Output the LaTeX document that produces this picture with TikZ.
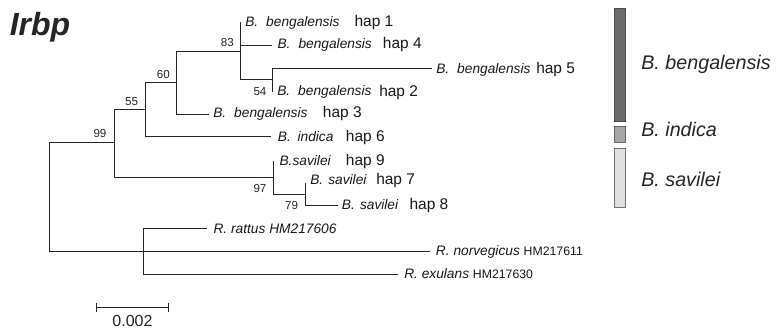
\documentclass[tikz,border=0pt]{standalone}
\usepackage{fontspec}
\setmainfont{Liberation Sans}
\begin{document}
\begin{tikzpicture}[x=0.75pt,y=-0.75pt,
  branch/.style={draw=black!85,line width=0.75pt},
  tiplab/.style={anchor=base west,inner sep=0pt,font=\fontsize{10.3pt}{12pt}\selectfont\itshape,text=black!90},
  haplab/.style={anchor=base west,inner sep=0pt,font=\fontsize{11.6pt}{13pt}\selectfont,text=black!90},
  boot/.style={anchor=base east,inner sep=0pt,font=\fontsize{8.7pt}{10pt}\selectfont,text=black!85},
  grouplab/.style={anchor=base west,inner sep=0pt,font=\fontsize{14.8pt}{17pt}\selectfont\itshape,text=black!85},
  bar/.style={line width=0.6pt}]
\useasboundingbox (0,0) rectangle (783,331);
\newcommand{\acc}[1]{{\upshape\fontsize{9.2pt}{11pt}\selectfont #1}}
\newcommand{\gen}[1]{B.\hspace{#1}}

% title
\node[anchor=base west,inner sep=0pt,font=\fontsize{24pt}{28pt}\selectfont\bfseries\itshape,text=black!85] (title) at (9.5,36) {Irbp};

% internal nodes
\coordinate (root) at (49.3,251.7);
\coordinate (n99) at (114.3,143);
\coordinate (n55) at (145,110);
\coordinate (n60) at (176.7,83);
\coordinate (n83) at (240,51.7);
\coordinate (n54) at (272.3,80);
\coordinate (n97) at (273.3,177.7);
\coordinate (n79) at (305,194.3);
\coordinate (nR) at (143.3,251.7);

% tips
\coordinate (t1) at (241,23);
\coordinate (t4) at (271.5,46);
\coordinate (t5) at (431.7,69);
\coordinate (t2) at (273,91.7);
\coordinate (t3) at (209,115);
\coordinate (t6) at (270.7,136.7);
\coordinate (t9) at (274,161.7);
\coordinate (t7) at (306,183.3);
\coordinate (t8) at (338,205.7);
\coordinate (tr) at (206.7,229);
\coordinate (tn) at (430,251.7);
\coordinate (te) at (398.3,275);

% branches
\draw[branch] (root) |- (n99);
\draw[branch] (root) |- (nR);
\draw[branch] (n99) |- (n55);
\draw[branch] (n99) |- (n97);
\draw[branch] (n55) |- (n60);
\draw[branch] (n55) |- (t6);
\draw[branch] (n60) |- (n83);
\draw[branch] (n60) |- (t3);
\draw[branch] (n83) |- (t1);
\draw[branch] (n83) |- (t4);
\draw[branch] (n83) |- (n54);
\draw[branch] (n54) |- (t5);
\draw[branch] (n54) |- (t2);
\draw[branch] (n97) |- (t9);
\draw[branch] (n97) |- (n79);
\draw[branch] (n79) |- (t7);
\draw[branch] (n79) |- (t8);
\draw[branch] (nR) |- (tr);
\draw[branch] (nR) |- (tn);
\draw[branch] (nR) |- (te);

% bootstrap values
\node[boot] (b83) at (234,46.7) {83};
\node[boot] (b60) at (170,78.3) {60};
\node[boot] (b55) at (138.3,106) {55};
\node[boot] (b99) at (106.7,137.7) {99};
\node[boot] (b54) at (266.7,95.7) {54};
\node[boot] (b97) at (266.7,192.7) {97};
\node[boot] (b79) at (298.3,210) {79};

% tip labels: species name, then haplotype
\node[tiplab] (l1) at (245,26.7) {\gen{6pt}bengalensis};
\node[haplab] (h1) at (354.3,26.7) {hap 1};
\node[tiplab] (l4) at (277.3,49) {\gen{6pt}bengalensis};
\node[haplab] (h4) at (382.7,49) {hap 4};
\node[tiplab] (l5) at (436,74) {\gen{6pt}bengalensis};
\node[haplab] (h5) at (536,74) {hap 5};
\node[tiplab] (l2) at (277,95.7) {\gen{6pt}bengalensis};
\node[haplab] (h2) at (379,97) {hap 2};
\node[tiplab] (l3) at (213,118) {\gen{6pt}bengalensis};
\node[haplab] (h3) at (322.7,118) {hap 3};
\node[tiplab] (l6) at (277.7,141.7) {\gen{5pt}indica};
\node[haplab] (h6) at (345.7,141.7) {hap 6};
\node[tiplab] (l9) at (279.3,165.7) {B.savilei};
\node[haplab] (h9) at (345.7,165.7) {hap 9};
\node[tiplab] (l7) at (310,185) {\gen{3.8pt}savilei};
\node[haplab] (h7) at (376,185) {hap 7};
\node[tiplab] (l8) at (341.7,210) {\gen{3.8pt}savilei};
\node[haplab] (h8) at (409.3,210) {hap 8};
\node[tiplab] (lr) at (213.3,233.3) {R. rattus HM217606};
\node[tiplab] (ln) at (435.7,256) {R. norvegicus \acc{HM217611}};
\node[tiplab] (le) at (404,278.3) {R. exulans \acc{HM217630}};

% scale bar
\coordinate (sa) at (96.7,307.3);
\coordinate (sb) at (168.3,307.3);
\draw[branch] (sa) -- (sb);
\draw[branch] ([yshift=-3.5]sa) -- ([yshift=3.5]sa);
\draw[branch] ([yshift=-3.5]sb) -- ([yshift=3.5]sb);
\node[anchor=base,inner sep=0pt,font=\fontsize{12pt}{14pt}\selectfont,text=black!85] (scale) at (132.5,326.7) {0.002};

% species bars
\draw[bar,fill=black!58,draw=black!70] (614.3,8.3) rectangle (625.7,121.7);
\draw[bar,fill=black!35,draw=black!60] (614.3,126) rectangle (625.7,142.7);
\draw[bar,fill=black!12,draw=black!55] (614.3,148.3) rectangle (625.7,207.3);
\node[grouplab] (gb) at (641,70) {B. bengalensis};
\node[grouplab] (gi) at (641,136.7) {B. indica};
\node[grouplab] (gs) at (641,186.7) {B. savilei};
\end{tikzpicture}
\end{document}
